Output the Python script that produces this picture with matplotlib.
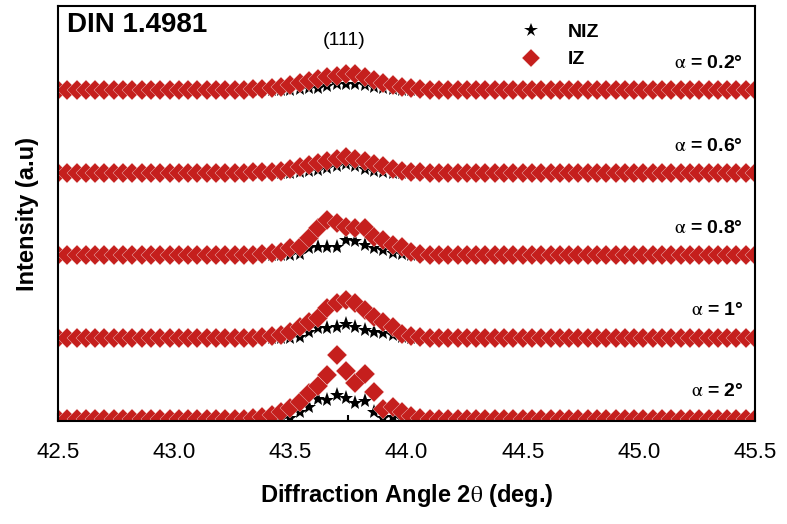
import numpy as np
import matplotlib
matplotlib.use("Agg")
import matplotlib.pyplot as plt
from matplotlib.ticker import MultipleLocator, FormatStrFormatter

plt.rcParams['font.family'] = ['Liberation Sans', 'DejaVu Sans']
plt.rcParams['mathtext.fontset'] = 'stix'

# scan grid: 2theta from 42.5 to 45.5 in 0.04 deg steps
two_theta = 42.5 + 0.04 * np.arange(76)
peak_start = 20  # index where the listed peak values begin

# peak values (a.u.) for index 20..40, zero elsewhere
niz_2 = [0, 0, 0, 0, 0, 1, 7, 12, 20, 19, 24, 21, 16, 18, 7, 1, 2, 0, 0, 0, 0]
iz_2 = [0, 1, 2, 4, 7, 11, 17, 26, 33, 44, 64, 48, 36, 45, 27, 10, 12, 7, 3, 1, 0]
niz_1 = [0, 0, 0, 0, 0, 0, 1, 6, 10, 10, 11, 14, 11, 8, 6, 5, 3, 1, 0, 0, 0]
iz_1 = [0, 0, 1, 2, 3, 6, 11, 16, 20, 30, 35, 38, 35, 28, 21, 16, 11, 4, 2, 1, 0]
niz_08 = [0, 0, 0, 0, 0, 0, 1, 7, 8, 8, 8, 15, 14, 10, 7, 5, 2, 1, 0, 0, 0]
iz_08 = [0, 0, 1, 2, 3, 7, 8, 17, 27, 35, 32, 28, 27, 27, 18, 15, 10, 8, 3, 1, 0]
niz_06 = [0, 0, 0, 0, 0, 0, 1, 2, 3, 5, 7, 9, 7, 4, 2, 1, 0, 0, 0, 0, 0]
iz_06 = [0, 1, 1, 1, 2, 4, 6, 8, 10, 12, 14, 16, 14, 12, 9, 7, 4, 2, 1, 1, 0]
niz_02 = [0, 0, 0, 0, 0, 0, 1, 2, 2, 4, 6, 6, 6, 5, 3, 2, 1, 0, 0, 0, 0]
iz_02 = [0, 1, 1, 2, 3, 5, 7, 9, 11, 13, 14, 16, 16, 13, 10, 7, 5, 3, 2, 1, 0]

angles = ['2°', '1°', '0.8°', '0.6°', '0.2°']
offsets = [0, 81, 164, 246, 329]
niz_peaks = [niz_2, niz_1, niz_08, niz_06, niz_02]
iz_peaks = [iz_2, iz_1, iz_08, iz_06, iz_02]

red = '#c51f1d'


def full_pattern(peak):
    y = np.zeros(len(two_theta))
    y[peak_start:peak_start + len(peak)] = peak
    return y


fig = plt.figure(figsize=(7.87, 5.24), dpi=100)
ax = fig.add_axes([0.0737, 0.1966, 0.8856, 0.7919])

for i, (off, niz, iz) in enumerate(zip(offsets, niz_peaks, iz_peaks)):
    ax.plot(two_theta, full_pattern(niz) + off, linestyle='none', marker='*',
            markersize=11, color='black', markeredgewidth=0,
            label='NIZ' if i == 0 else None)
    ax.plot(two_theta, full_pattern(iz) + off, linestyle='none', marker='D',
            markersize=10, color=red, markeredgecolor='#f0c8c8',
            markeredgewidth=0.3, label='IZ' if i == 0 else None)
    ax.text(45.45, off + 27, r'$\mathrm{\alpha}$ = ' + angles[i], ha='right',
            va='center', fontsize=14, fontweight='bold')

ax.set_xlim(42.5, 45.5)
ax.set_ylim(-2, 413)
ax.xaxis.set_major_locator(MultipleLocator(0.5))
ax.xaxis.set_minor_locator(MultipleLocator(0.25))
ax.xaxis.set_major_formatter(FormatStrFormatter('%.1f'))
ax.tick_params(axis='x', which='major', direction='in', length=6, width=1.5,
               labelsize=16, pad=15)
ax.tick_params(axis='x', which='minor', direction='in', length=4, width=1.5)
ax.set_yticks([])
for s in ax.spines.values():
    s.set_linewidth(1.5)

ax.set_xlabel(r'Diffraction Angle 2$\mathrm{\theta}$ (deg.)', fontsize=17,
              fontweight='bold', labelpad=14)
ax.set_ylabel('Intensity (a.u)', fontsize=17, fontweight='bold', labelpad=14)

ax.text(0.013, 0.955, 'DIN 1.4981', transform=ax.transAxes, ha='left', va='center',
        fontsize=20, fontweight='bold')
ax.text(43.73, 379, '(111)', ha='center', va='center', fontsize=14)

leg = ax.legend(loc='upper left', bbox_to_anchor=(0.625, 1.0), frameon=False,
                prop={'weight': 'bold', 'size': 14},
                handletextpad=0.9, labelspacing=0.5, markerscale=0.9)

fig.savefig('out.png', dpi=100)
